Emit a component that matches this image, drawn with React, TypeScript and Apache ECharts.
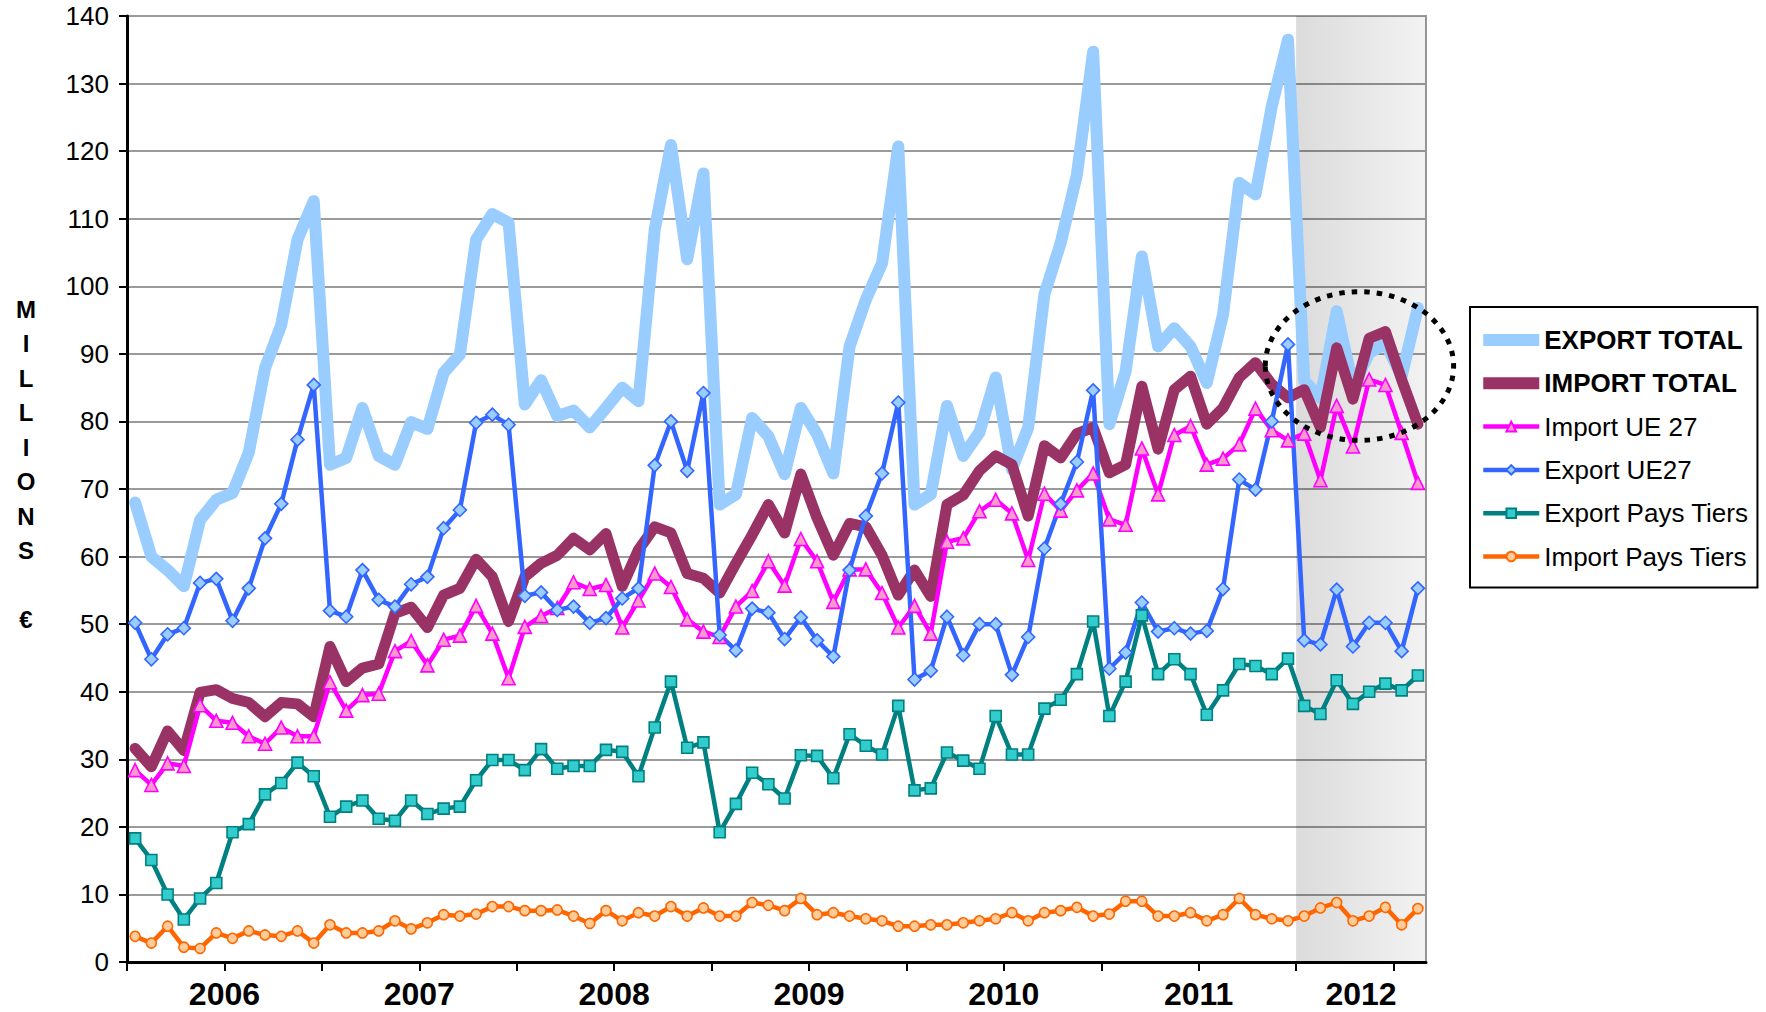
import React, { useEffect, useRef } from "react";
import * as echarts from "echarts";

// ---- categories ----
const years = ["2006", "2007", "2008", "2009", "2010", "2011", "2012"];
const monthNums = ["01", "02", "03", "04", "05", "06", "07", "08", "09", "10", "11", "12"];
const months: string[] = years.flatMap((y) => monthNums.map((m) => `${y}-${m}`)).slice(0, 80);

// x-axis ticks (every 6 months, month boundary index) and year label positions
const tickValues = [0, 6, 12, 18, 24, 30, 36, 42, 48, 54, 60, 66, 72, 78];
const yearLabelValues = [6, 18, 30, 42, 54, 66, 76];

// ---- series values (millions €) ----
const exportTotal = [
  68.0, 60.0, 58.0, 55.6, 65.4, 68.4, 69.4, 75.4, 87.9, 94.3, 106.9, 112.6,
  73.6, 74.6, 82.0, 74.9, 73.6, 79.9, 78.9, 87.2, 89.9, 106.9, 110.7, 109.4,
  82.5, 86.1, 80.8, 81.6, 79.1, 82.0, 85.0, 83.0, 108.4, 120.9, 104.0, 116.7,
  67.7, 69.2, 80.5, 77.8, 72.2, 82.0, 78.1, 72.3, 91.1, 98.0, 103.4, 120.7,
  67.7, 69.2, 82.3, 74.9, 78.4, 86.5, 72.9, 79.1, 98.8, 106.4, 116.5, 134.7,
  79.6, 87.4, 104.4, 91.1, 93.8, 91.1, 85.7, 95.8, 115.3, 113.6, 126.6, 136.5,
  86.0, 83.5, 96.3, 85.2, 90.1, 91.6, 86.7, 96.8,
];
const importTotal = [
  31.6, 28.9, 34.2, 31.3, 39.9, 40.3, 39.0, 38.4, 36.3, 38.4, 38.2, 36.3,
  46.7, 41.5, 43.5, 44.1, 51.6, 52.5, 49.5, 54.3, 55.3, 59.6, 57.0, 50.4,
  57.0, 59.0, 60.2, 62.7, 61.0, 63.4, 55.6, 61.0, 64.4, 63.5, 57.5, 56.8,
  54.6, 59.0, 63.2, 67.7, 63.5, 72.2, 65.7, 60.2, 64.9, 64.4, 60.2, 54.3,
  58.0, 54.1, 67.7, 69.1, 72.7, 74.9, 73.6, 66.0, 76.4, 74.6, 78.2, 79.1,
  72.4, 73.6, 85.2, 75.9, 84.7, 86.7, 79.6, 82.0, 86.5, 88.7, 85.5, 83.5,
  84.7, 79.1, 90.9, 83.3, 92.3, 93.3, 86.2, 79.6,
];
const importUE27 = [
  28.4, 26.2, 29.4, 29.0, 38.0, 35.7, 35.4, 33.4, 32.3, 34.7, 33.4, 33.4,
  41.4, 37.2, 39.5, 39.7, 46.0, 47.5, 43.9, 47.7, 48.3, 52.7, 48.6, 42.0,
  49.6, 51.2, 52.4, 56.2, 55.2, 55.8, 49.5, 53.5, 57.5, 55.5, 50.7, 48.9,
  48.1, 52.6, 54.9, 59.3, 55.7, 62.6, 59.3, 53.3, 58.1, 58.1, 54.6, 49.5,
  52.7, 48.6, 62.2, 62.7, 66.7, 68.4, 66.4, 59.5, 69.3, 66.8, 69.8, 72.3,
  65.5, 64.7, 76.0, 69.2, 78.0, 79.3, 73.6, 74.5, 76.6, 81.9, 78.7, 77.2,
  78.2, 71.3, 82.3, 76.3, 86.2, 85.4, 78.3, 70.9,
];
const exportUE27 = [
  50.2, 44.8, 48.5, 49.4, 56.1, 56.7, 50.5, 55.3, 62.7, 67.8, 77.3, 85.4,
  52.0, 51.1, 58.0, 53.6, 52.6, 55.9, 57.0, 64.2, 66.9, 79.8, 81.0, 79.5,
  54.2, 54.7, 52.1, 52.6, 50.2, 50.9, 53.8, 55.3, 73.5, 80.0, 72.7, 84.2,
  48.4, 46.1, 52.3, 51.7, 47.8, 51.0, 47.6, 45.2, 58.0, 66.0, 72.3, 82.8,
  41.8, 43.1, 51.1, 45.4, 50.0, 50.0, 42.5, 48.1, 61.2, 67.8, 74.0, 84.6,
  43.4, 45.8, 53.2, 48.9, 49.4, 48.6, 49.0, 55.2, 71.4, 69.9, 80.0, 91.4,
  47.6, 47.0, 55.1, 46.7, 50.2, 50.2, 46.0, 55.3,
];
const exportPaysTiers = [
  18.3, 15.1, 10.0, 6.3, 9.4, 11.7, 19.2, 20.4, 24.8, 26.5, 29.5, 27.5,
  21.5, 23.0, 23.9, 21.2, 20.9, 23.9, 21.9, 22.7, 23.0, 26.9, 29.9, 29.9,
  28.4, 31.5, 28.6, 29.0, 29.0, 31.4, 31.1, 27.5, 34.7, 41.5, 31.7, 32.5,
  19.2, 23.4, 28.0, 26.3, 24.2, 30.6, 30.5, 27.2, 33.7, 32.0, 30.7, 37.9,
  25.4, 25.7, 31.0, 29.8, 28.6, 36.4, 30.7, 30.7, 37.5, 38.8, 42.6, 50.4,
  36.4, 41.5, 51.3, 42.6, 44.8, 42.6, 36.6, 40.2, 44.1, 43.8, 42.6, 44.9,
  37.9, 36.7, 41.7, 38.2, 40.0, 41.2, 40.2, 42.4,
];
const importPaysTiers = [
  3.8, 2.8, 5.3, 2.2, 2.0, 4.3, 3.5, 4.6, 4.0, 3.8, 4.6, 2.8,
  5.5, 4.3, 4.3, 4.6, 6.1, 4.9, 5.8, 7.0, 6.8, 7.1, 8.2, 8.2,
  7.6, 7.6, 7.7, 6.8, 5.7, 7.6, 6.1, 7.3, 6.8, 8.2, 6.8, 8.0,
  6.8, 6.8, 8.8, 8.4, 7.6, 9.4, 7.0, 7.3, 6.8, 6.4, 6.1, 5.3,
  5.3, 5.5, 5.5, 5.8, 6.1, 6.4, 7.3, 6.1, 7.3, 7.6, 8.1, 6.8,
  7.1, 9.0, 9.0, 6.8, 6.8, 7.3, 6.1, 7.0, 9.4, 7.0, 6.4, 6.1,
  6.8, 8.0, 8.8, 6.1, 6.8, 8.1, 5.5, 7.9,
];

// highlighted period and dotted ellipse annotation (data coordinates)
const shadeStart = "2012-01";
const ellipseCenter = [75.9, 88.2];
const ellipseRadius = [5.8, 11.0];

const FONT = '"Liberation Sans", Arial, sans-serif';

export default function App() {
  const ref = useRef<HTMLDivElement>(null);

  useEffect(() => {
    document.body.style.margin = "0";
    const chart = echarts.init(ref.current!, null, { renderer: "svg" });

    const pairs = (arr: number[]) => arr.map((v, i) => [i + 0.5, v]);

    const thick = (name: string, data: number[], color: string, width: number) => ({
      name,
      type: "line",
      data: pairs(data),
      symbol: "none",
      lineStyle: { color, width, join: "round", cap: "round" },
      itemStyle: { color },
      emphasis: { disabled: true },
      silent: true,
    });
    const thin = (
      name: string,
      data: number[],
      color: string,
      fill: string,
      symbol: string,
      size: number
    ) => ({
      name,
      type: "line",
      data: pairs(data),
      symbol,
      symbolSize: size,
      showAllSymbol: true,
      lineStyle: { color, width: 4.5, join: "round" },
      itemStyle: { color: fill, borderColor: color, borderWidth: 1.6 },
      emphasis: { disabled: true },
      silent: true,
    });

    const shadeFrom = months.indexOf(shadeStart);

    chart.setOption({
      animation: false,
      backgroundColor: "#ffffff",
      grid: {
        left: 127,
        top: 16,
        right: 340,
        bottom: 50,
        show: true,
        borderColor: "#9a9a9a",
        borderWidth: 2,
        backgroundColor: "transparent",
      },
      xAxis: {
        type: "value",
        min: 0,
        max: months.length,
        splitLine: { show: false },
        axisLine: { show: true, lineStyle: { color: "#000", width: 3 } },
        axisTick: {
          show: true,
          customValues: tickValues,
          length: 9,
          lineStyle: { color: "#000", width: 2 },
        },
        axisLabel: {
          customValues: yearLabelValues,
          formatter: (v: number) => {
            const k = yearLabelValues.indexOf(Math.round(v));
            return k >= 0 ? years[k] : "";
          },
          color: "#000",
          fontFamily: FONT,
          fontWeight: "bold",
          fontSize: 32,
          margin: 16,
        },
      },
      yAxis: {
        type: "value",
        min: 0,
        max: 140,
        interval: 10,
        axisLine: { show: true, lineStyle: { color: "#000", width: 3 } },
        axisTick: { show: true, length: 8, lineStyle: { color: "#000", width: 2 } },
        splitLine: { show: true, lineStyle: { color: "#9a9a9a", width: 2 } },
        axisLabel: { color: "#000", fontFamily: FONT, fontSize: 26, margin: 18 },
      },
      legend: {
        orient: "vertical",
        left: 1470,
        top: 307,
        padding: [19, 9, 17, 11],
        itemGap: 15.3,
        itemWidth: 56,
        itemHeight: 12,
        borderColor: "#000",
        borderWidth: 2,
        backgroundColor: "#fff",
        selectedMode: false,
        textStyle: { fontFamily: FONT, fontSize: 26, color: "#000", lineHeight: 28 },
        lineStyle: { width: "inherit" },
        data: [
          { name: "EXPORT TOTAL", icon: "rect", textStyle: { fontWeight: "bold" } },
          { name: "IMPORT TOTAL", icon: "rect", textStyle: { fontWeight: "bold" } },
          "Import UE 27",
          "Export UE27",
          "Export Pays Tiers",
          "Import Pays Tiers",
        ],
      },
      series: [
        {
          name: "shade",
          type: "line",
          data: [],
          silent: true,
          markArea: {
            silent: true,
            itemStyle: {
              color: new echarts.graphic.LinearGradient(0, 0, 1, 0, [
                { offset: 0, color: "rgba(0,0,0,0.14)" },
                { offset: 1, color: "rgba(0,0,0,0.05)" },
              ]),
            },
            data: [[{ xAxis: shadeFrom }, { xAxis: months.length }]],
          },
        },
        thick("EXPORT TOTAL", exportTotal, "#99CCFF", 12),
        thick("IMPORT TOTAL", importTotal, "#993366", 11),
        thin("Import UE 27", importUE27, "#FF00FF", "#FF99CC", "triangle", 13),
        thin("Export UE27", exportUE27, "#3366FF", "#99CCFF", "diamond", 13),
        thin("Export Pays Tiers", exportPaysTiers, "#008080", "#33CCCC", "rect", 11),
        thin("Import Pays Tiers", importPaysTiers, "#FF6600", "#FFCC99", "circle", 10),
      ],
    });

    const c = chart.convertToPixel({ gridIndex: 0 }, ellipseCenter) as number[];
    const e = chart.convertToPixel({ gridIndex: 0 }, [
      ellipseCenter[0] + ellipseRadius[0],
      ellipseCenter[1] + ellipseRadius[1],
    ]) as number[];

    chart.setOption({
      graphic: [
        {
          type: "text",
          x: 26,
          y: 292,
          silent: true,
          style: {
            text: "M\nI\nL\nL\nI\nO\nN\nS\n\n€",
            font: `bold 24px ${FONT}`,
            lineHeight: 34.5,
            align: "center",
            verticalAlign: "top",
            fill: "#000",
          },
        },
        {
          type: "ellipse",
          silent: true,
          z: 100,
          shape: { cx: c[0], cy: c[1], rx: e[0] - c[0], ry: c[1] - e[1] },
          style: { fill: "none", stroke: "#000", lineWidth: 5, lineDash: [5.5, 7] },
        },
      ],
    });

    return () => chart.dispose();
  }, []);

  return <div ref={ref} style={{ width: 1766, height: 1012 }} />;
}
